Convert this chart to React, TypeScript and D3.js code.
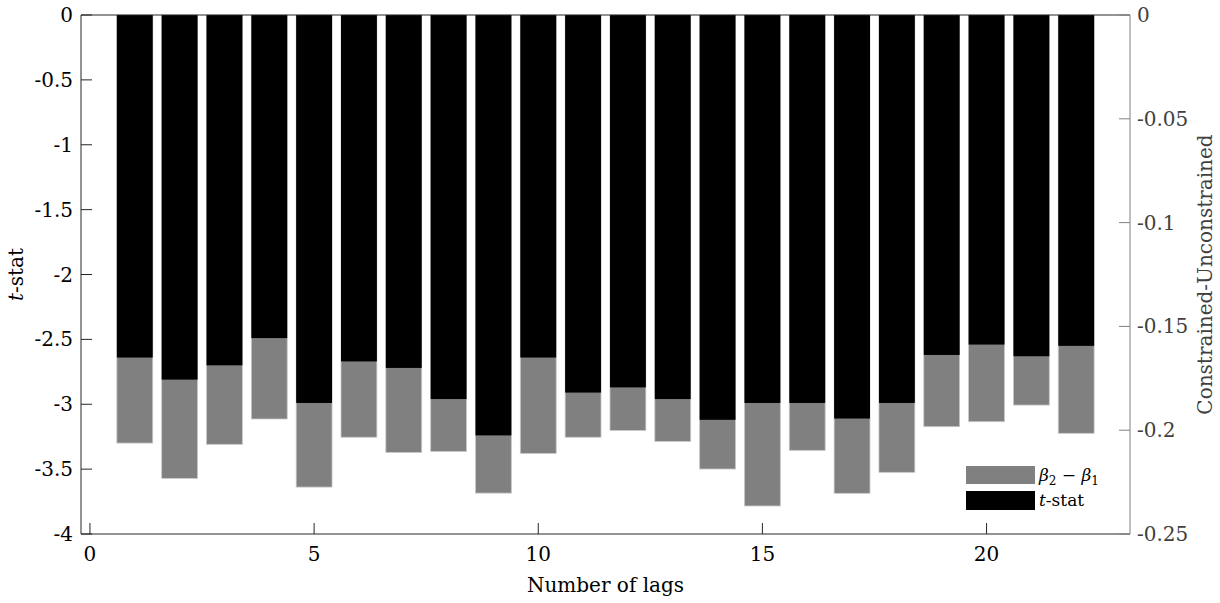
import React from "react";
import * as d3 from "d3";

const lags = [1,2,3,4,5,6,7,8,9,10,11,12,13,14,15,16,17,18,19,20,21,22];
const tStat = [-2.64,-2.81,-2.70,-2.49,-2.99,-2.67,-2.72,-2.96,-3.24,-2.64,-2.91,-2.87,-2.96,-3.12,-2.99,-2.99,-3.11,-2.99,-2.62,-2.54,-2.63,-2.55];
const betaDiff = [-0.2062,-0.2232,-0.2068,-0.1946,-0.2274,-0.2034,-0.2107,-0.2102,-0.2303,-0.2112,-0.2034,-0.2001,-0.2054,-0.2187,-0.2365,-0.2097,-0.2304,-0.2203,-0.1983,-0.1959,-0.1879,-0.2015];
const leftTicks = [0,-0.5,-1,-1.5,-2,-2.5,-3,-3.5,-4];
const rightTicks = [0,-0.05,-0.1,-0.15,-0.2,-0.25];
const xTicks = [0,5,10,15,20];

const W = 1220, H = 603;
const L = 81, R = 1130, T = 15, B = 534;
const FONT = "'DejaVu Serif', serif";
const FS = 20;

export default function App() {
  const x = d3.scaleLinear().domain([-0.2, 23.2]).range([L, R]);
  const yL = d3.scaleLinear().domain([-4, 0]).range([B, T]);
  const yR = d3.scaleLinear().domain([-0.25, 0]).range([B, T]);
  const bw = x(0.8) - x(0);
  const fmt = (v: number) => (v === 0 ? "0" : String(v));
  return (
    <svg width={W} height={H} style={{ position: "absolute", left: 0, top: 0, background: "#fff" }} fontFamily={FONT}>
      {lags.map((l, i) => (
        <rect key={"g" + i} x={x(l) - bw / 2} y={yR(0)} width={bw} height={yR(betaDiff[i]) - yR(0)}
          fill="#808080" stroke="#c8c8c8" strokeWidth={0.8} />
      ))}
      {lags.map((l, i) => (
        <rect key={"b" + i} x={x(l) - bw / 2} y={yL(0)} width={bw} height={yL(tStat[i]) - yL(0)}
          fill="#000" />
      ))}
      <line x1={L} x2={R} y1={T} y2={T} stroke="#262626" strokeWidth={1} />
      <line x1={L} x2={R} y1={B} y2={B} stroke="#262626" strokeWidth={1} />
      <line x1={L} x2={L} y1={T} y2={B} stroke="#262626" strokeWidth={1} />
      <line x1={R} x2={R} y1={T} y2={B} stroke="#808080" strokeWidth={1} />
      {leftTicks.map((v, i) => (
        <g key={"lt" + i}>
          <line x1={L} x2={L + 11} y1={yL(v)} y2={yL(v)} stroke="#262626" />
          <text x={L - 8} y={yL(v)} dy="0.35em" textAnchor="end" fontSize={FS} fill="#000">{fmt(v)}</text>
        </g>
      ))}
      {rightTicks.map((v, i) => (
        <g key={"rt" + i}>
          <line x1={R} x2={R - 11} y1={yR(v)} y2={yR(v)} stroke="#808080" />
          <text x={R + 7} y={yR(v)} dy="0.35em" textAnchor="start" fontSize={FS} fill="#404040">{fmt(v)}</text>
        </g>
      ))}
      {xTicks.map((v, i) => (
        <g key={"xt" + i}>
          <line x1={x(v)} x2={x(v)} y1={B} y2={B - 11} stroke="#262626" />
          <text x={x(v)} y={561} textAnchor="middle" fontSize={FS} fill="#000">{v}</text>
        </g>
      ))}
      <text x={(L + R) / 2} y={592} textAnchor="middle" fontSize={FS} fill="#000">Number of lags</text>
      <text transform={`translate(23,${(T + B) / 2}) rotate(-90)`} textAnchor="middle" fontSize={FS} fill="#000">
        <tspan fontStyle="italic">t</tspan>-stat
      </text>
      <text transform={`translate(1212,${(T + B) / 2}) rotate(-90)`} textAnchor="middle" fontSize={FS} fill="#404040">
        Constrained-Unconstrained
      </text>
      <rect x={966} y={466} width={69} height={18} fill="#808080" />
      <rect x={966} y={491} width={69} height={19} fill="#000" />
      <text x={1039} y={481} fontSize={17} fill="#000">
        <tspan fontStyle="italic">β</tspan><tspan fontSize={12} dy={4}>2</tspan>
        <tspan dy={-4}> − </tspan>
        <tspan fontStyle="italic">β</tspan><tspan fontSize={12} dy={4}>1</tspan>
      </text>
      <text x={1039} y={506} fontSize={17} fill="#000">
        <tspan fontStyle="italic">t</tspan>-stat
      </text>
    </svg>
  );
}
